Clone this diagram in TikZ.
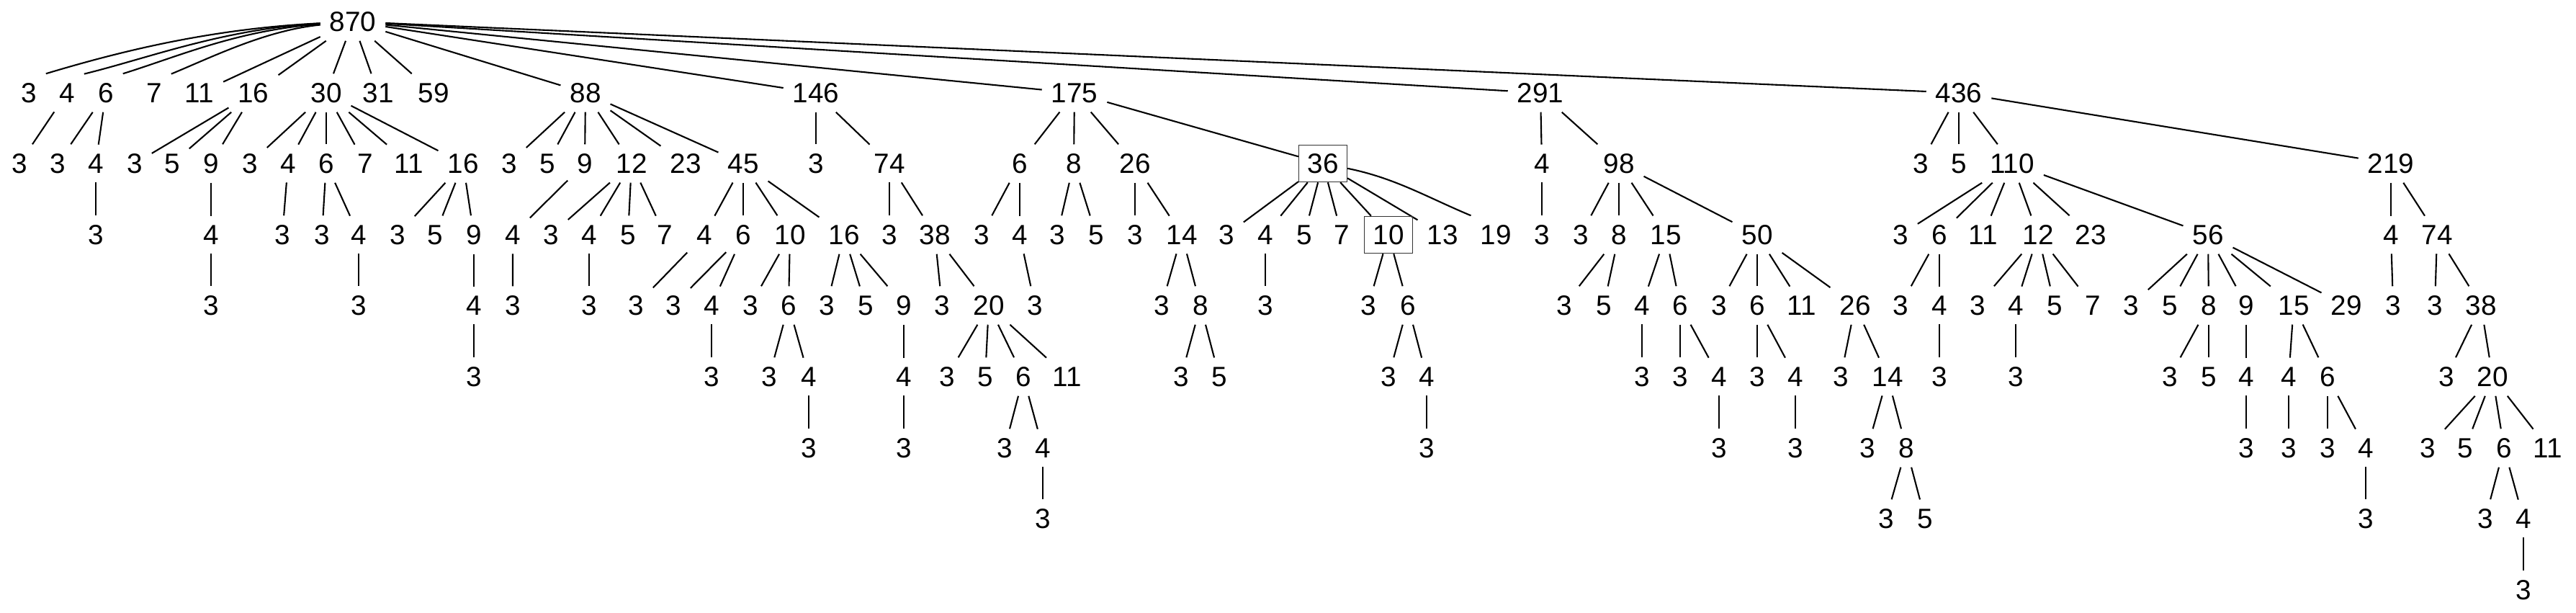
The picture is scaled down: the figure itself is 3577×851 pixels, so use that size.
\documentclass[tikz,border=0pt]{standalone}
\usepackage{fontspec}
\setmainfont{Liberation Sans}
\begin{document}
\begin{tikzpicture}
        [x=0.1mm,y=-0.1mm,line width=0.6pt,
         every node/.style={font=\fontsize{11}{13}\selectfont,inner xsep=1.2mm,inner ysep=1.2mm},
         marked/.style={draw=black!80,line width=0.35pt}]
        \useasboundingbox (0,0) rectangle (3577,851);

        \node (t) at (490,30) {870};
        \foreach \x/\v in {40/3,93/4,147/6,214/7}
        {\node (t\v) at (\x,129) {\v};}
        \foreach \x/\v in {277/11,352/16,453/30,525/31,602/59,813/88,1133/146,1492/175,2139/291,2720/436}
        {\node (t\v) at (\x,129) {\v}; \draw (t) -- (t\v);}
        \draw (t) .. controls +(-200,10) and +(100,-30) .. (t3.north east);
        \draw (t) .. controls +(-180,10) and +(90,-22) .. (t4.north east);
        \draw (t) .. controls +(-160,12) and +(80,-25) .. (t6.north east);
        \draw (t) .. controls +(-120,12) and +(60,-25) .. (t7.north east);

        \node (t4-3) at (27,227) {3}; \draw (t4) -- (t4-3);
        \foreach \x/\v in {80/3,133/4} {\node (t6-\v) at (\x,227) {\v}; \draw (t6) -- (t6-\v);}
        \node (t6-4-3) at (133,326) {3}; \draw (t6-4) -- (t6-4-3);

        \foreach \x/\v in {187/3,239/5,293/9} {\node (t16-\v) at (\x,227) {\v}; \draw (t16) -- (t16-\v);}
        \node (t16-9-4) at (293,326) {4};
        \node (t16-9-4-3) at (293,424) {3};
        \draw (t16-9) -- (t16-9-4) -- (t16-9-4-3);

        \foreach \x/\v in {347/3,400/4,453/6,507/7,568/11,643/16} {\node (t30-\v) at (\x,227) {\v}; \draw (t30) -- (t30-\v);}
        \node (t30-4-3) at (392,326) {3}; \draw (t30-4) -- (t30-4-3);
        \foreach \x/\v in {447/3,498/4} {\node (t30-6-\v) at (\x,326) {\v}; \draw (t30-6) -- (t30-6-\v);}
        \node (t30-6-4-3) at (498,424) {3}; \draw (t30-6-4) -- (t30-6-4-3);
        \foreach \x/\v in {552/3,604/5,658/9} {\node (t30-16-\v) at (\x,326) {\v}; \draw (t30-16) -- (t30-16-\v);}
        \node (t30-16-9-4) at (658,424) {4};
        \node (t30-16-9-4-3) at (658,523) {3};
        \draw (t30-16-9) -- (t30-16-9-4) -- (t30-16-9-4-3);

        \foreach \x/\v in {707/3,760/5,812/9,877/12,952/23,1032/45} {\node (t88-\v) at (\x,227) {\v}; \draw (t88) -- (t88-\v);}
        \node (t88-9-4) at (712,326) {4};
        \node (t88-9-4-3) at (712,424) {3};
        \draw (t88-9) -- (t88-9-4) -- (t88-9-4-3);
        \foreach \x/\v in {765/3,818/4,872/5,923/7} {\node (t88-12-\v) at (\x,326) {\v}; \draw (t88-12) -- (t88-12-\v);}
        \node (t88-12-4-3) at (818,424) {3}; \draw (t88-12-4) -- (t88-12-4-3);
        \foreach \x/\v in {978/4,1032/6,1097/10,1172/16} {\node (t88-45-\v) at (\x,326) {\v}; \draw (t88-45) -- (t88-45-\v);}
        \node (t88-45-4-3) at (883,424) {3}; \draw (t88-45-4) -- (t88-45-4-3);
        \foreach \x/\v in {935/3,988/4} {\node (t88-45-6-\v) at (\x,424) {\v}; \draw (t88-45-6) -- (t88-45-6-\v);}
        \node (t88-45-6-4-3) at (988,523) {3}; \draw (t88-45-6-4) -- (t88-45-6-4-3);
        \foreach \x/\v in {1042/3,1095/6} {\node (t88-45-10-\v) at (\x,424) {\v}; \draw (t88-45-10) -- (t88-45-10-\v);}
        \foreach \x/\v in {1068/3,1123/4} {\node (t88-45-10-6-\v) at (\x,523) {\v}; \draw (t88-45-10-6) -- (t88-45-10-6-\v);}
        \node (t88-45-10-6-4-3) at (1123,622) {3}; \draw (t88-45-10-6-4) -- (t88-45-10-6-4-3);
        \foreach \x/\v in {1148/3,1202/5,1255/9} {\node (t88-45-16-\v) at (\x,424) {\v}; \draw (t88-45-16) -- (t88-45-16-\v);}
        \node (t88-45-16-9-4) at (1255,523) {4};
        \node (t88-45-16-9-4-3) at (1255,622) {3};
        \draw (t88-45-16-9) -- (t88-45-16-9-4) -- (t88-45-16-9-4-3);

        \foreach \x/\v in {1133/3,1235/74} {\node (t146-\v) at (\x,227) {\v}; \draw (t146) -- (t146-\v);}
        \foreach \x/\v in {1235/3,1298/38} {\node (t146-74-\v) at (\x,326) {\v}; \draw (t146-74) -- (t146-74-\v);}
        \foreach \x/\v in {1308/3,1373/20} {\node (t146-74-38-\v) at (\x,424) {\v}; \draw (t146-74-38) -- (t146-74-38-\v);}
        \foreach \x/\v in {1315/3,1368/5,1421/6,1482/11} {\node (t146-74-38-20-\v) at (\x,523) {\v}; \draw (t146-74-38-20) -- (t146-74-38-20-\v);}
        \foreach \x/\v in {1395/3,1448/4} {\node (t146-74-38-20-6-\v) at (\x,622) {\v}; \draw (t146-74-38-20-6) -- (t146-74-38-20-6-\v);}
        \node (t146-74-38-20-6-4-3) at (1448,720) {3}; \draw (t146-74-38-20-6-4) -- (t146-74-38-20-6-4-3);

        \foreach \x/\v in {1416/6,1491/8,1576/26} {\node (t175-\v) at (\x,227) {\v}; \draw (t175) -- (t175-\v);}
        \node[marked] (t175-36) at (1837,227) {36}; \draw (t175) -- (t175-36);
        \foreach \x/\v in {1363/3,1416/4} {\node (t175-6-\v) at (\x,326) {\v}; \draw (t175-6) -- (t175-6-\v);}
        \node (t175-6-4-3) at (1437,424) {3}; \draw (t175-6-4) -- (t175-6-4-3);
        \foreach \x/\v in {1468/3,1522/5} {\node (t175-8-\v) at (\x,326) {\v}; \draw (t175-8) -- (t175-8-\v);}
        \foreach \x/\v in {1576/3,1641/14} {\node (t175-26-\v) at (\x,326) {\v}; \draw (t175-26) -- (t175-26-\v);}
        \foreach \x/\v in {1613/3,1667/8} {\node (t175-26-14-\v) at (\x,424) {\v}; \draw (t175-26-14) -- (t175-26-14-\v);}
        \foreach \x/\v in {1640/3,1693/5} {\node (t175-26-14-8-\v) at (\x,523) {\v}; \draw (t175-26-14-8) -- (t175-26-14-8-\v);}
        \foreach \x/\v in {1703/3,1757/4,1811/5,1863/7,2003/13} {\node (t175-36-\v) at (\x,326) {\v}; \draw (t175-36) -- (t175-36-\v);}
        \node[marked] (t175-36-10) at (1928,326) {10}; \draw (t175-36) -- (t175-36-10);
        \node (t175-36-19) at (2077,326) {19};
        \draw (t175-36) .. controls +(100,20) and +(-60,-25) .. (t175-36-19.north west);
        \node (t175-36-4-3) at (1757,424) {3}; \draw (t175-36-4) -- (t175-36-4-3);
        \foreach \x/\v in {1900/3,1955/6} {\node (t175-36-10-\v) at (\x,424) {\v}; \draw (t175-36-10) -- (t175-36-10-\v);}
        \foreach \x/\v in {1928/3,1981/4} {\node (t175-36-10-6-\v) at (\x,523) {\v}; \draw (t175-36-10-6) -- (t175-36-10-6-\v);}
        \node (t175-36-10-6-4-3) at (1981,622) {3}; \draw (t175-36-10-6-4) -- (t175-36-10-6-4-3);

        \foreach \x/\v in {2141/4,2248/98} {\node (t291-\v) at (\x,227) {\v}; \draw (t291) -- (t291-\v);}
        \node (t291-4-3) at (2141,326) {3}; \draw (t291-4) -- (t291-4-3);
        \foreach \x/\v in {2195/3,2248/8,2313/15,2440/50} {\node (t291-98-\v) at (\x,326) {\v}; \draw (t291-98) -- (t291-98-\v);}
        \foreach \x/\v in {2172/3,2227/5} {\node (t291-98-8-\v) at (\x,424) {\v}; \draw (t291-98-8) -- (t291-98-8-\v);}
        \foreach \x/\v in {2280/4,2333/6} {\node (t291-98-15-\v) at (\x,424) {\v}; \draw (t291-98-15) -- (t291-98-15-\v);}
        \node (t291-98-15-4-3) at (2280,523) {3}; \draw (t291-98-15-4) -- (t291-98-15-4-3);
        \foreach \x/\v in {2333/3,2387/4} {\node (t291-98-15-6-\v) at (\x,523) {\v}; \draw (t291-98-15-6) -- (t291-98-15-6-\v);}
        \node (t291-98-15-6-4-3) at (2387,622) {3}; \draw (t291-98-15-6-4) -- (t291-98-15-6-4-3);
        \foreach \x/\v in {2387/3,2440/6,2502/11,2576/26} {\node (t291-98-50-\v) at (\x,424) {\v}; \draw (t291-98-50) -- (t291-98-50-\v);}
        \foreach \x/\v in {2440/3,2493/4} {\node (t291-98-50-6-\v) at (\x,523) {\v}; \draw (t291-98-50-6) -- (t291-98-50-6-\v);}
        \node (t291-98-50-6-4-3) at (2493,622) {3}; \draw (t291-98-50-6-4) -- (t291-98-50-6-4-3);
        \foreach \x/\v in {2556/3,2621/14} {\node (t291-98-50-26-\v) at (\x,523) {\v}; \draw (t291-98-50-26) -- (t291-98-50-26-\v);}
        \foreach \x/\v in {2593/3,2647/8} {\node (t291-98-50-26-14-\v) at (\x,622) {\v}; \draw (t291-98-50-26-14) -- (t291-98-50-26-14-\v);}
        \foreach \x/\v in {2619/3,2673/5} {\node (t291-98-50-26-14-8-\v) at (\x,720) {\v}; \draw (t291-98-50-26-14-8) -- (t291-98-50-26-14-8-\v);}

        \foreach \x/\v in {2667/3,2720/5,2794/110,3320/219} {\node (t436-\v) at (\x,227) {\v}; \draw (t436) -- (t436-\v);}
        \foreach \x/\v in {2639/3,2693/6,2754/11,2830/12,2903/23,3066/56} {\node (t436-110-\v) at (\x,326) {\v}; \draw (t436-110) -- (t436-110-\v);}
        \foreach \x/\v in {2639/3,2693/4} {\node (t436-110-6-\v) at (\x,424) {\v}; \draw (t436-110-6) -- (t436-110-6-\v);}
        \node (t436-110-6-4-3) at (2693,523) {3}; \draw (t436-110-6-4) -- (t436-110-6-4-3);
        \foreach \x/\v in {2746/3,2799/4,2853/5,2906/7} {\node (t436-110-12-\v) at (\x,424) {\v}; \draw (t436-110-12) -- (t436-110-12-\v);}
        \node (t436-110-12-4-3) at (2799,523) {3}; \draw (t436-110-12-4) -- (t436-110-12-4-3);
        \foreach \x/\v in {2959/3,3013/5,3067/8,3119/9,3185/15,3258/29} {\node (t436-110-56-\v) at (\x,424) {\v}; \draw (t436-110-56) -- (t436-110-56-\v);}
        \foreach \x/\v in {3013/3,3067/5} {\node (t436-110-56-8-\v) at (\x,523) {\v}; \draw (t436-110-56-8) -- (t436-110-56-8-\v);}
        \node (t436-110-56-9-4) at (3119,523) {4};
        \node (t436-110-56-9-4-3) at (3119,622) {3};
        \draw (t436-110-56-9) -- (t436-110-56-9-4) -- (t436-110-56-9-4-3);
        \foreach \x/\v in {3178/4,3232/6} {\node (t436-110-56-15-\v) at (\x,523) {\v}; \draw (t436-110-56-15) -- (t436-110-56-15-\v);}
        \node (t436-110-56-15-4-3) at (3178,622) {3}; \draw (t436-110-56-15-4) -- (t436-110-56-15-4-3);
        \foreach \x/\v in {3232/3,3285/4} {\node (t436-110-56-15-6-\v) at (\x,622) {\v}; \draw (t436-110-56-15-6) -- (t436-110-56-15-6-\v);}
        \node (t436-110-56-15-6-4-3) at (3285,720) {3}; \draw (t436-110-56-15-6-4) -- (t436-110-56-15-6-4-3);
        \foreach \x/\v in {3320/4,3384/74} {\node (t436-219-\v) at (\x,326) {\v}; \draw (t436-219) -- (t436-219-\v);}
        \node (t436-219-4-3) at (3323,424) {3}; \draw (t436-219-4) -- (t436-219-4-3);
        \foreach \x/\v in {3381/3,3445/38} {\node (t436-219-74-\v) at (\x,424) {\v}; \draw (t436-219-74) -- (t436-219-74-\v);}
        \foreach \x/\v in {3397/3,3461/20} {\node (t436-219-74-38-\v) at (\x,523) {\v}; \draw (t436-219-74-38) -- (t436-219-74-38-\v);}
        \foreach \x/\v in {3371/3,3423/5,3477/6,3538/11} {\node (t436-219-74-38-20-\v) at (\x,622) {\v}; \draw (t436-219-74-38-20) -- (t436-219-74-38-20-\v);}
        \foreach \x/\v in {3451/3,3504/4} {\node (t436-219-74-38-20-6-\v) at (\x,720) {\v}; \draw (t436-219-74-38-20-6) -- (t436-219-74-38-20-6-\v);}
        \node (t436-219-74-38-20-6-4-3) at (3504,819) {3}; \draw (t436-219-74-38-20-6-4) -- (t436-219-74-38-20-6-4-3);
      \end{tikzpicture}
\end{document}
